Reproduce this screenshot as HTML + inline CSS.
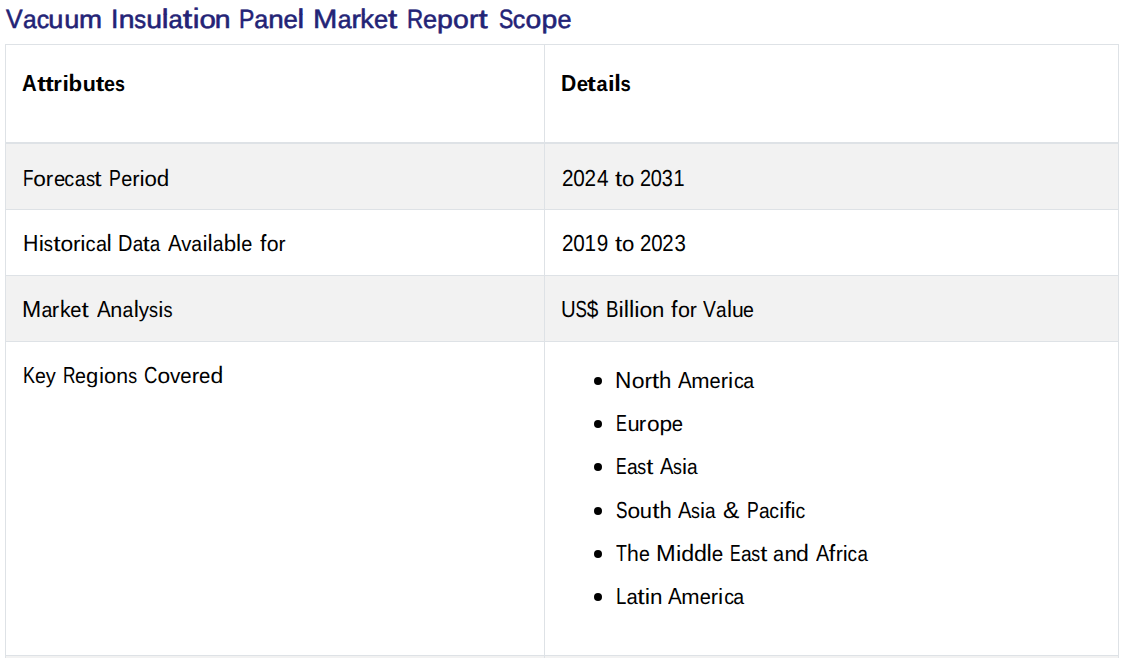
<!DOCTYPE html>
<html><head><meta charset="utf-8"><title>Vacuum Insulation Panel Market Report Scope</title>
<style>
html,body{margin:0;padding:0;background:#fff;}
body{width:1123px;height:658px;overflow:hidden;position:relative;font-family:"Liberation Sans",sans-serif;color:#000;}
.r{position:absolute;}
.t{position:absolute;white-space:nowrap;line-height:1;transform-origin:0 0;font-family:"Liberation Sans",sans-serif;color:#000;text-rendering:geometricPrecision}
.t i{display:inline-block;position:relative;font-style:normal;transform-origin:0 0}
.t s{display:inline-block;text-decoration:none}
.t i::after{position:absolute;left:0;top:0}
.gm{font-size:25.27px}
.gm s{clip-path:inset(6.15px -9px -9px -9px)}
.gm i::after{transform-origin:0 6.15px;clip-path:inset(-9px -9px 18.72px -9px)}
.gm .z::after{transform:scaleY(1.222)}.gm .y::after{transform:scaleY(1.299)}.gm .x::after{transform:translateY(-1.99px);clip-path:inset(-9px -9px 19.92px -9px)}
.gh{font-size:20.82px;font-weight:700}
.gh s{clip-path:inset(4.50px -9px -9px -9px)}
.gh i::after{transform-origin:0 4.50px;clip-path:inset(-9px -9px 15.92px -9px)}
.gh .z::after{transform:scaleY(1.534)}.gh .y::after{transform:scaleY(1.174)}.gh .x::after{transform:translateY(-1.21px);clip-path:inset(-9px -9px 17.12px -9px)}
.gb{font-size:20.82px}
.gb s{clip-path:inset(4.50px -9px -9px -9px)}
.gb i::after{transform-origin:0 4.50px;clip-path:inset(-9px -9px 15.92px -9px)}
.gb .z::after{transform:scaleY(1.534)}.gb .y::after{transform:scaleY(1.276)}.gb .x::after{transform:translateY(-0.91px);clip-path:inset(-9px -9px 17.12px -9px)}
.m0{width:15.71px;transform:scaleX(0.885);font-size:26.6px}
.m1{width:12.86px;transform:scaleX(0.915)}
.m2{width:11.67px;transform:scaleX(0.924)}
.m3{width:14.29px;transform:scaleX(1.017)}
.m4{width:21.77px;transform:scaleX(1.034)}
.m5{width:6.72px;transform:scaleX(0.910);font-size:26.6px}
.m6{width:14.29px;transform:scaleX(1.017)}
.m7{width:10.72px;transform:scaleX(0.849)}
.m8{width:6.12px;transform:scaleX(1.090)}.m8::after{content:"l"}
.m9{width:8.56px;transform:scaleX(1.220)}.m9::after{content:"t"}
.m10{width:6.12px;transform:scaleX(1.090)}.m10::after{content:"i"}
.m11{width:14.81px;transform:scaleX(1.054)}
.m12{width:14.15px;transform:scaleX(0.798);font-size:26.6px}
.m13{width:13.21px;transform:scaleX(0.940)}
.m14{width:22.69px;transform:scaleX(1.024);font-size:26.6px}
.m15{width:8.80px;transform:scaleX(1.045)}
.m16{width:12.56px;transform:scaleX(0.994)}.m16::after{content:"k"}
.m17{width:15.12px;transform:scaleX(0.787);font-size:26.6px}
.m18{width:14.86px;transform:scaleX(1.057)}
.m19{width:13.42px;transform:scaleX(0.757);font-size:26.6px}
.h0{width:14.54px;transform:scaleX(0.866);font-size:23.26px}
.h1{width:8.46px;transform:scaleX(1.220)}.h1::after{content:"t"}
.h2{width:8.47px;transform:scaleX(1.045)}
.h3{width:6.31px;transform:scaleX(1.090)}.h3::after{content:"i"}
.h4{width:13.44px;transform:scaleX(1.057)}.h4::after{content:"b"}
.h5{width:12.93px;transform:scaleX(1.017)}
.h6{width:10.89px;transform:scaleX(0.940)}
.h7{width:9.83px;transform:scaleX(0.849)}
.h8{width:14.60px;transform:scaleX(0.869);font-size:23.26px}
.h9{width:10.59px;transform:scaleX(0.915)}
.h10{width:6.31px;transform:scaleX(1.090)}.h10::after{content:"l"}
.b0{width:10.16px;transform:scaleX(0.715);font-size:23.26px}
.b1{width:12.20px;transform:scaleX(1.054)}
.b2{width:7.25px;transform:scaleX(1.045)}
.b3{width:10.89px;transform:scaleX(0.940)}
.b4{width:9.62px;transform:scaleX(0.924)}
.b5{width:10.59px;transform:scaleX(0.915)}
.b6{width:8.83px;transform:scaleX(0.849)}
.b7{width:7.06px;transform:scaleX(1.220)}.b7::after{content:"t"}
.b8{width:11.66px;transform:scaleX(0.752);font-size:23.26px}
.b9{width:5.04px;transform:scaleX(1.090)}.b9::after{content:"i"}
.b10{width:12.26px;transform:scaleX(1.059)}.b10::after{content:"d"}
.b11{width:11.22px;transform:scaleX(0.868);font-size:23.26px}
.b12{width:11.22px;transform:scaleX(0.868);font-size:23.26px}
.b13{width:11.22px;transform:scaleX(0.868);font-size:23.26px}
.b14{width:11.22px;transform:scaleX(0.868);font-size:23.26px}
.b15{width:11.22px;transform:scaleX(0.868);font-size:23.26px}
.b16{width:14.78px;transform:scaleX(0.880);font-size:23.26px}
.b17{width:5.04px;transform:scaleX(1.090)}.b17::after{content:"l"}
.b18{width:14.60px;transform:scaleX(0.869);font-size:23.26px}
.b19{width:13.43px;transform:scaleX(0.866);font-size:23.26px}
.b20{width:9.97px;transform:scaleX(0.958)}
.b21{width:12.24px;transform:scaleX(1.057)}.b21::after{content:"b"}
.b22{width:6.52px;transform:scaleX(1.127)}.b22::after{content:"f"}
.b23{width:11.22px;transform:scaleX(0.868);font-size:23.26px}
.b24{width:18.70px;transform:scaleX(0.965);font-size:23.26px}
.b25{width:10.35px;transform:scaleX(0.994)}.b25::after{content:"k"}
.b26{width:11.77px;transform:scaleX(1.017)}
.b27{width:10.06px;transform:scaleX(0.967)}
.b28{width:14.29px;transform:scaleX(0.851);font-size:23.26px}
.b29{width:11.06px;transform:scaleX(0.713);font-size:23.26px}
.b30{width:11.22px;transform:scaleX(0.868);font-size:23.26px}
.b31{width:11.93px;transform:scaleX(0.769);font-size:23.26px}
.b32{width:12.94px;transform:scaleX(0.834);font-size:23.26px}
.b33{width:11.77px;transform:scaleX(1.017)}
.b34{width:12.08px;transform:scaleX(0.778);font-size:23.26px}
.b35{width:12.45px;transform:scaleX(0.741);font-size:23.26px}
.b36{width:12.26px;transform:scaleX(1.059)}
.b37{width:12.89px;transform:scaleX(0.767);font-size:23.26px}
.b38{width:15.57px;transform:scaleX(0.927);font-size:23.26px}
.b39{width:11.77px;transform:scaleX(1.017)}.b39::after{content:"h"}
.b40{width:17.93px;transform:scaleX(1.034)}
.b41{width:10.55px;transform:scaleX(0.680);font-size:23.26px}
.b42{width:12.24px;transform:scaleX(1.057)}
.b43{width:16.66px;transform:scaleX(1.074);font-size:23.26px}
.b44{width:10.91px;transform:scaleX(0.768);font-size:23.26px}
.b45{width:9.79px;transform:scaleX(0.757);font-size:23.26px}
.b{position:absolute;width:8px;height:8px;border-radius:50%;background:#000;}
</style></head><body>
<!-- stripes -->
<div class="r" style="left:6px;top:144px;width:1112px;height:65px;background:#f2f2f2"></div>
<div class="r" style="left:6px;top:276px;width:1112px;height:65px;background:#f2f2f2"></div>
<div class="r" style="left:6px;top:656px;width:1112px;height:2px;background:#f2f2f2"></div>
<!-- horizontal borders -->
<div class="r" style="left:5px;top:44px;width:1114px;height:1px;background:#dee2e6"></div>
<div class="r" style="left:5px;top:142px;width:1114px;height:2px;background:#dee2e6"></div>
<div class="r" style="left:5px;top:209px;width:1114px;height:1px;background:#dee2e6"></div>
<div class="r" style="left:5px;top:275px;width:1114px;height:1px;background:#dee2e6"></div>
<div class="r" style="left:5px;top:341px;width:1114px;height:1px;background:#dee2e6"></div>
<div class="r" style="left:5px;top:655px;width:1114px;height:1px;background:#dee2e6"></div>
<!-- vertical borders -->
<div class="r" style="left:5px;top:44px;width:1px;height:614px;background:#dee2e6"></div>
<div class="r" style="left:544px;top:44px;width:1px;height:614px;background:#dee2e6"></div>
<div class="r" style="left:1118px;top:44px;width:1px;height:614px;background:#dee2e6"></div>
<span class="t gm" style="left:6.46px;top:5.65px;transform:scaleX(1.0585);color:#232376;-webkit-text-stroke:0.55px #232376;"><i class="m0">V</i><i class="m1">a</i><i class="m2">c</i><i class="m3">u</i><i class="m3">u</i><i class="m4">m</i></span>
<span class="t gm" style="left:110.99px;top:5.65px;transform:scaleX(1.1048);color:#232376;-webkit-text-stroke:0.55px #232376;"><i class="m5">I</i><i class="m6">n</i><i class="m7">s</i><i class="m3">u</i><i class="m8 z"><s>l</s></i><i class="m1">a</i><i class="m9 y"><s>t</s></i><i class="m10 x"><s>i</s></i><i class="m11">o</i><i class="m6">n</i></span>
<span class="t gm" style="left:239.18px;top:5.65px;transform:scaleX(1.0830);color:#232376;-webkit-text-stroke:0.55px #232376;"><i class="m12">P</i><i class="m1">a</i><i class="m6">n</i><i class="m13">e</i><i class="m8 z"><s>l</s></i></span>
<span class="t gm" style="left:313.06px;top:5.65px;transform:scaleX(1.0723);color:#232376;-webkit-text-stroke:0.55px #232376;"><i class="m14">M</i><i class="m1">a</i><i class="m15">r</i><i class="m16 z"><s>k</s></i><i class="m13">e</i><i class="m9 y"><s>t</s></i></span>
<span class="t gm" style="left:407.40px;top:5.65px;transform:scaleX(1.0680);color:#232376;-webkit-text-stroke:0.55px #232376;"><i class="m17">R</i><i class="m13">e</i><i class="m18">p</i><i class="m11">o</i><i class="m15">r</i><i class="m9 y"><s>t</s></i></span>
<span class="t gm" style="left:498.60px;top:5.65px;transform:scaleX(1.0637);color:#232376;-webkit-text-stroke:0.55px #232376;"><i class="m19">S</i><i class="m2">c</i><i class="m11">o</i><i class="m18">p</i><i class="m13">e</i></span>
<span class="t gh" style="left:22.09px;top:72.00px;transform:scaleX(1.0114);"><i class="h0">A</i><i class="h1 y"><s>t</s></i><i class="h1 y"><s>t</s></i><i class="h2">r</i><i class="h3 x"><s>i</s></i><i class="h4 z"><s>b</s></i><i class="h5">u</i><i class="h1 y"><s>t</s></i><i class="h6">e</i><i class="h7">s</i></span>
<span class="t gh" style="left:561.49px;top:72.00px;transform:scaleX(1.0446);"><i class="h8">D</i><i class="h6">e</i><i class="h1 y"><s>t</s></i><i class="h9">a</i><i class="h3 x"><s>i</s></i><i class="h10 z"><s>l</s></i><i class="h7">s</i></span>
<span class="t gb" style="left:22.81px;top:167.00px;transform:scaleX(1.0328);"><i class="b0">F</i><i class="b1">o</i><i class="b2">r</i><i class="b3">e</i><i class="b4">c</i><i class="b5">a</i><i class="b6">s</i><i class="b7 y"><s>t</s></i></span>
<span class="t gb" style="left:108.63px;top:167.00px;transform:scaleX(1.0150);"><i class="b8">P</i><i class="b3">e</i><i class="b2">r</i><i class="b9 x"><s>i</s></i><i class="b1">o</i><i class="b10 z"><s>d</s></i></span>
<span class="t gb" style="left:561.57px;top:167.00px;transform:scaleX(1.0263);"><i class="b11">2</i><i class="b12">0</i><i class="b11">2</i><i class="b13">4</i></span>
<span class="t gb" style="left:614.55px;top:170.00px;transform:scaleX(1.0111);"><i class="b7 y"><s>t</s></i><i class="b1">o</i></span>
<span class="t gb" style="left:640.01px;top:167.00px;transform:scaleX(0.9873);"><i class="b11">2</i><i class="b12">0</i><i class="b14">3</i><i class="b15">1</i></span>
<span class="t gb" style="left:22.84px;top:232.00px;transform:scaleX(1.0427);"><i class="b16">H</i><i class="b9 x"><s>i</s></i><i class="b6">s</i><i class="b7 y"><s>t</s></i><i class="b1">o</i><i class="b2">r</i><i class="b9 x"><s>i</s></i><i class="b4">c</i><i class="b5">a</i><i class="b17 z"><s>l</s></i></span>
<span class="t gb" style="left:117.82px;top:232.00px;transform:scaleX(0.9891);"><i class="b18">D</i><i class="b5">a</i><i class="b7 y"><s>t</s></i><i class="b5">a</i></span>
<span class="t gb" style="left:168.30px;top:232.00px;transform:scaleX(1.0159);"><i class="b19">A</i><i class="b20">v</i><i class="b5">a</i><i class="b9 x"><s>i</s></i><i class="b17 z"><s>l</s></i><i class="b5">a</i><i class="b21 z"><s>b</s></i><i class="b17 z"><s>l</s></i><i class="b3">e</i></span>
<span class="t gb" style="left:260.26px;top:235.00px;transform:scaleX(0.9709);"><i class="b22 z"><s>f</s></i><i class="b1">o</i><i class="b2">r</i></span>
<span class="t gb" style="left:561.58px;top:232.00px;transform:scaleX(1.0243);"><i class="b11">2</i><i class="b12">0</i><i class="b15">1</i><i class="b23">9</i></span>
<span class="t gb" style="left:614.55px;top:235.00px;transform:scaleX(1.0111);"><i class="b7 y"><s>t</s></i><i class="b1">o</i></span>
<span class="t gb" style="left:639.99px;top:232.00px;transform:scaleX(1.0115);"><i class="b11">2</i><i class="b12">0</i><i class="b11">2</i><i class="b14">3</i></span>
<span class="t gb" style="left:22.30px;top:298.00px;transform:scaleX(1.0261);"><i class="b24">M</i><i class="b5">a</i><i class="b2">r</i><i class="b25 z"><s>k</s></i><i class="b3">e</i><i class="b7 y"><s>t</s></i></span>
<span class="t gb" style="left:96.50px;top:298.00px;transform:scaleX(1.0212);"><i class="b19">A</i><i class="b26">n</i><i class="b5">a</i><i class="b17 z"><s>l</s></i><i class="b27">y</i><i class="b6">s</i><i class="b9 x"><s>i</s></i><i class="b6">s</i></span>
<span class="t gb" style="left:561.16px;top:298.00px;transform:scaleX(1.0290);"><i class="b28">U</i><i class="b29">S</i><i class="b30">$</i></span>
<span class="t gb" style="left:605.63px;top:298.00px;transform:scaleX(1.0472);"><i class="b31">B</i><i class="b9 x"><s>i</s></i><i class="b17 z"><s>l</s></i><i class="b17 z"><s>l</s></i><i class="b9 x"><s>i</s></i><i class="b1">o</i><i class="b26">n</i></span>
<span class="t gb" style="left:670.65px;top:301.00px;transform:scaleX(0.9825);"><i class="b22 z"><s>f</s></i><i class="b1">o</i><i class="b2">r</i></span>
<span class="t gb" style="left:703.00px;top:298.00px;transform:scaleX(0.9980);"><i class="b32">V</i><i class="b5">a</i><i class="b17 z"><s>l</s></i><i class="b33">u</i><i class="b3">e</i></span>
<span class="t gb" style="left:22.91px;top:364.00px;transform:scaleX(0.9937);"><i class="b34">K</i><i class="b3">e</i><i class="b27">y</i></span>
<span class="t gb" style="left:62.95px;top:364.00px;transform:scaleX(1.0028);"><i class="b35">R</i><i class="b3">e</i><i class="b36">g</i><i class="b9 x"><s>i</s></i><i class="b1">o</i><i class="b26">n</i><i class="b6">s</i></span>
<span class="t gb" style="left:144.02px;top:364.00px;transform:scaleX(1.0384);"><i class="b37">C</i><i class="b1">o</i><i class="b20">v</i><i class="b3">e</i><i class="b2">r</i><i class="b3">e</i><i class="b10 z"><s>d</s></i></span>
<div class="b" style="left:594px;top:377px"></div>
<span class="t gb" style="left:615.36px;top:369.00px;transform:scaleX(1.0502);"><i class="b38">N</i><i class="b1">o</i><i class="b2">r</i><i class="b7 y"><s>t</s></i><i class="b39 z"><s>h</s></i></span>
<span class="t gb" style="left:677.80px;top:369.00px;transform:scaleX(1.0194);"><i class="b19">A</i><i class="b40">m</i><i class="b3">e</i><i class="b2">r</i><i class="b9 x"><s>i</s></i><i class="b4">c</i><i class="b5">a</i></span>
<div class="b" style="left:594px;top:420px"></div>
<span class="t gb" style="left:615.91px;top:412.00px;transform:scaleX(1.0343);"><i class="b41">E</i><i class="b33">u</i><i class="b2">r</i><i class="b1">o</i><i class="b42">p</i><i class="b3">e</i></span>
<div class="b" style="left:594px;top:463px"></div>
<span class="t gb" style="left:615.94px;top:455.00px;transform:scaleX(1.0070);"><i class="b41">E</i><i class="b5">a</i><i class="b6">s</i><i class="b7 y"><s>t</s></i></span>
<span class="t gb" style="left:660.40px;top:455.00px;transform:scaleX(1.0013);"><i class="b19">A</i><i class="b6">s</i><i class="b9 x"><s>i</s></i><i class="b5">a</i></span>
<div class="b" style="left:594px;top:507px"></div>
<span class="t gb" style="left:616.02px;top:499.00px;transform:scaleX(1.0377);"><i class="b29">S</i><i class="b1">o</i><i class="b33">u</i><i class="b7 y"><s>t</s></i><i class="b39 z"><s>h</s></i></span>
<span class="t gb" style="left:677.80px;top:499.00px;transform:scaleX(1.0013);"><i class="b19">A</i><i class="b6">s</i><i class="b9 x"><s>i</s></i><i class="b5">a</i></span>
<span class="t gb" style="left:723.36px;top:499.00px;transform:scaleX(0.9806);"><i class="b43">&amp;</i></span>
<span class="t gb" style="left:747.24px;top:499.00px;transform:scaleX(1.0089);"><i class="b8">P</i><i class="b5">a</i><i class="b4">c</i><i class="b9 x"><s>i</s></i><i class="b22 z"><s>f</s></i><i class="b9 x"><s>i</s></i><i class="b4">c</i></span>
<div class="b" style="left:594px;top:550px"></div>
<span class="t gb" style="left:616.15px;top:542.00px;transform:scaleX(0.9985);"><i class="b44">T</i><i class="b39 z"><s>h</s></i><i class="b3">e</i></span>
<span class="t gb" style="left:655.86px;top:542.00px;transform:scaleX(1.0531);"><i class="b24">M</i><i class="b9 x"><s>i</s></i><i class="b10 z"><s>d</s></i><i class="b10 z"><s>d</s></i><i class="b17 z"><s>l</s></i><i class="b3">e</i></span>
<span class="t gb" style="left:729.94px;top:542.00px;transform:scaleX(1.0070);"><i class="b41">E</i><i class="b5">a</i><i class="b6">s</i><i class="b7 y"><s>t</s></i></span>
<span class="t gb" style="left:773.22px;top:545.00px;transform:scaleX(1.0450);"><i class="b5">a</i><i class="b26">n</i><i class="b10 z"><s>d</s></i></span>
<span class="t gb" style="left:815.90px;top:542.00px;transform:scaleX(0.9877);"><i class="b19">A</i><i class="b22 z"><s>f</s></i><i class="b2">r</i><i class="b9 x"><s>i</s></i><i class="b4">c</i><i class="b5">a</i></span>
<div class="b" style="left:594px;top:593px"></div>
<span class="t gb" style="left:615.61px;top:585.00px;transform:scaleX(1.0610);"><i class="b45">L</i><i class="b5">a</i><i class="b7 y"><s>t</s></i><i class="b9 x"><s>i</s></i><i class="b26">n</i></span>
<span class="t gb" style="left:667.80px;top:585.00px;transform:scaleX(1.0207);"><i class="b19">A</i><i class="b40">m</i><i class="b3">e</i><i class="b2">r</i><i class="b9 x"><s>i</s></i><i class="b4">c</i><i class="b5">a</i></span>
</body></html>
